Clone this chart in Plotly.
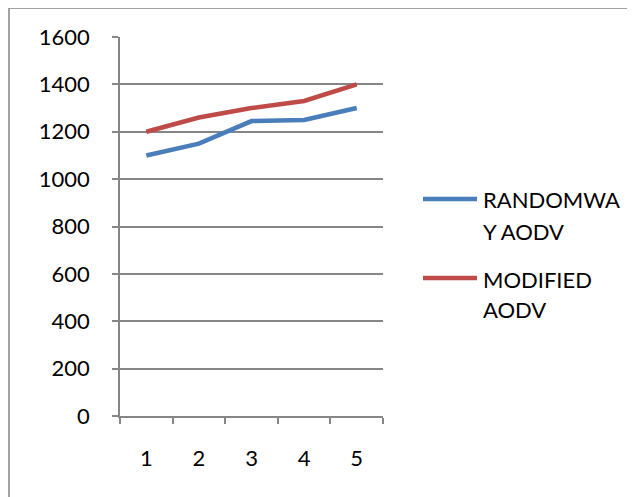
import plotly.graph_objects as go

categories = ["1", "2", "3", "4", "5"]
randomway_aodv = [1100, 1150, 1245, 1250, 1300]
modified_aodv = [1200, 1260, 1300, 1330, 1400]
series_names = ["RANDOMWAY AODV", "MODIFIED AODV"]
legend_lines = [["RANDOMWA", "Y AODV"], ["MODIFIED", "AODV"]]
y_ticks = [0, 200, 400, 600, 800, 1000, 1200, 1400, 1600]

colors = ["#4A7EBB", "#BE4B48"]
FONT = "Lato"
FS = 22

fig = go.Figure()
for name, vals, c in zip(series_names, [randomway_aodv, modified_aodv], colors):
    fig.add_trace(go.Scatter(x=categories, y=vals, mode="lines", name=name,
                             line=dict(color=c, width=4.5), showlegend=False))

OFF = 8  # page body margin
W, H = 635, 497
L, R, T, B = 120, 383, 37, 416
pw, ph = R - L, B - T

def px(x):
    return (x - L) / pw

def py(y):
    return (B - y) / ph

shapes = [
    dict(type="rect", xref="paper", yref="paper", x0=px(9), x1=px(700), y0=py(8), y1=py(560),
         line=dict(color="#868686", width=1.5), fillcolor="rgba(0,0,0,0)", layer="below"),
]
annotations = []
sym_y = [199, 278]
text_y = [[199, 231], [279, 309]]
for i in range(2):
    shapes.append(dict(type="line", xref="paper", yref="paper", x0=px(423), x1=px(477),
                       y0=py(sym_y[i]), y1=py(sym_y[i]), line=dict(color=colors[i], width=4.5)))
    for line, yy in zip(legend_lines[i], text_y[i]):
        annotations.append(dict(xref="paper", yref="paper", x=px(481), y=py(yy), text=line,
                                showarrow=False, xanchor="left", yanchor="middle",
                                font=dict(family=FONT, size=FS, color="#000000")))

fig.update_layout(
    width=W - OFF, height=H - OFF,
    margin=dict(l=L - OFF, r=W - R, t=T - OFF, b=H - B, pad=0),
    paper_bgcolor="white", plot_bgcolor="white",
    font=dict(family=FONT, size=FS, color="#000000"),
    shapes=shapes, annotations=annotations,
    xaxis=dict(type="category", range=[-0.5, 4.5], tickson="boundaries", ticks="outside",
               ticklen=6, tickcolor="#868686", tickwidth=1.5, showgrid=False,
               showline=True, linecolor="#868686", linewidth=1.5, ticklabelstandoff=22,
               zeroline=False, fixedrange=True),
    yaxis=dict(range=[0, 1600], tickvals=y_ticks, ticks="outside", ticklen=6,
               tickcolor="#868686", tickwidth=1.5, showgrid=True, gridcolor="#868686",
               gridwidth=1.5, showline=True, linecolor="#868686", linewidth=1.5,
               zeroline=False, ticklabelstandoff=18, fixedrange=True),
)

fig.write_html("out.html")
